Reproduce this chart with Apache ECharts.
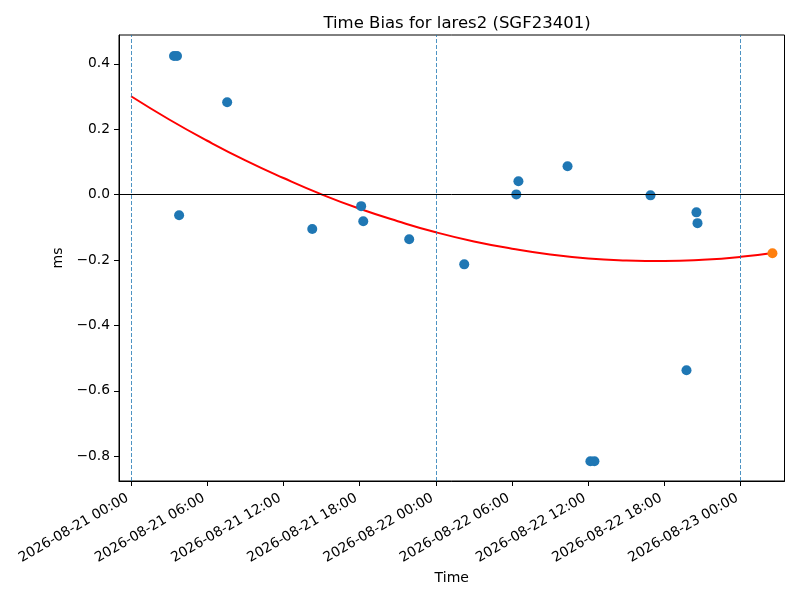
<!DOCTYPE html>
<html>
<head>
<meta charset="utf-8">
<script src="https://cdn.jsdelivr.net/npm/echarts@6/dist/echarts.min.js"></script>
<style>html,body{margin:0;padding:0;background:#fff}#c{width:800px;height:600px}</style>
</head>
<body>
<div id="c"></div>
<script>
// Observed time bias points (ms)
const obsTimes = ['2026-08-21 03:23','2026-08-21 03:37','2026-08-21 03:47','2026-08-21 07:34','2026-08-21 14:16','2026-08-21 18:07','2026-08-21 18:17','2026-08-21 21:54','2026-08-22 02:14','2026-08-22 06:20','2026-08-22 06:30','2026-08-22 10:22','2026-08-22 12:10','2026-08-22 12:29','2026-08-22 16:54','2026-08-22 19:44','2026-08-22 20:31','2026-08-22 20:36'];
const obsValues = [0.424,0.424,-0.063,0.283,-0.105,-0.035,-0.081,-0.136,-0.213,0.001,0.041,0.087,-0.815,-0.815,-0.002,-0.537,-0.054,-0.087];
// Fit curve
const fitTimes = ['2026-08-21 00:00','2026-08-21 03:00','2026-08-21 06:00','2026-08-21 09:00','2026-08-21 12:00','2026-08-21 15:00','2026-08-21 18:00','2026-08-21 21:00','2026-08-22 00:00','2026-08-22 03:00','2026-08-22 06:00','2026-08-22 09:00','2026-08-22 12:00','2026-08-22 15:00','2026-08-22 18:00','2026-08-22 21:00','2026-08-23 00:00','2026-08-23 02:30'];
const fitValues = [0.301,0.230,0.165,0.105,0.051,0.001,-0.043,-0.081,-0.115,-0.143,-0.165,-0.183,-0.195,-0.201,-0.203,-0.199,-0.190,-0.178];
// Prediction point
const predTime = '2026-08-23 02:30';
const predValue = -0.179;
// Midnight markers and ticks
const dayLines = ['2026-08-21 00:00','2026-08-22 00:00','2026-08-23 00:00'];
const xTickLabels = ['2026-08-21 00:00','2026-08-21 06:00','2026-08-21 12:00','2026-08-21 18:00','2026-08-22 00:00','2026-08-22 06:00','2026-08-22 12:00','2026-08-22 18:00','2026-08-23 00:00'];
const yTicks = [-0.8,-0.6,-0.4,-0.2,0.0,0.2,0.4];
const xMin = '2026-08-20 23:03';
const xMax = '2026-08-23 03:27';
const yMin = -0.8755, yMax = 0.4884;

function ts(s){ const [d,t]=s.split(' '); const [Y,M,D]=d.split('-').map(Number); const [h,m]=t.split(':').map(Number); return Date.UTC(Y,M-1,D,h,m); }
function pad(n){ return (n<10?'0':'')+n; }
function fmt(v){ const d=new Date(Math.round(v)); return d.getUTCFullYear()+'-'+pad(d.getUTCMonth()+1)+'-'+pad(d.getUTCDate())+' '+pad(d.getUTCHours())+':'+pad(d.getUTCMinutes()); }

const xTickVals = xTickLabels.map(ts);
const font = 'DejaVu Sans';
const chart = echarts.init(document.getElementById('c'), null, {renderer:'canvas'});
chart.setOption({
  animation:false,
  backgroundColor:'#fff',
  title:{text:'Time Bias for lares2 (SGF23401)', left:452, top:10, textAlign:'center',
    textStyle:{fontFamily:font, fontSize:16.5, fontWeight:'normal', color:'#000'}},
  grid:{left:119, right:15.5, top:35, bottom:119, show:true, borderColor:'#000', borderWidth:1, containLabel:false},
  xAxis:{type:'value', min:ts(xMin), max:ts(xMax), scale:true,
    name:'Time', nameLocation:'middle', nameGap:90,
    nameTextStyle:{fontFamily:font, fontSize:14, color:'#000'},
    axisLine:{show:true, onZero:false, lineStyle:{color:'#000', width:1}},
    axisTick:{show:true, inside:false, length:5, customValues:xTickVals, lineStyle:{color:'#000'}},
    axisLabel:{customValues:xTickVals, rotate:30, margin:14, padding:[0,4,0,0], fontFamily:font, fontSize:13.8, color:'#000', formatter:(v)=>fmt(v), hideOverlap:false, showMinLabel:true, showMaxLabel:true},
    splitLine:{show:false}},
  yAxis:{type:'value', min:yMin, max:yMax,
    name:'ms', nameLocation:'middle', nameGap:50,
    nameTextStyle:{fontFamily:font, fontSize:14, color:'#000'},
    axisLine:{show:true, onZero:false, lineStyle:{color:'#000', width:1}},
    axisTick:{show:true, inside:false, length:5, customValues:yTicks, lineStyle:{color:'#000'}},
    axisLabel:{customValues:yTicks, margin:9, fontFamily:font, fontSize:13.8, color:'#000',
      formatter:(v)=>{ const s=Math.abs(v).toFixed(1); return (v< -1e-9?'\u2212':'')+s; }},
    splitLine:{show:false}},
  series:[
    {type:'line', data:fitTimes.map((t,i)=>[ts(t),fitValues[i]]), smooth:true, showSymbol:false, symbol:'none',
      lineStyle:{color:'#ff0000', width:2}, z:3,
      markLine:{silent:true, symbol:['none','none'], label:{show:false},
        data:[
          ...dayLines.map(d=>({xAxis:ts(d), lineStyle:{color:'#1f77b4', width:0.8, type:[4,2]}})),
          {yAxis:0, lineStyle:{color:'#000', width:1, type:'solid'}}
        ]}},
    {type:'scatter', data:obsTimes.map((t,i)=>[ts(t),obsValues[i]]), symbolSize:10, itemStyle:{color:'#1f77b4', opacity:1}, z:4},
    {type:'scatter', data:[[ts(predTime),predValue]], symbolSize:10, itemStyle:{color:'#ff7f0e', opacity:1}, z:5}
  ]
});
</script>
</body>
</html>
